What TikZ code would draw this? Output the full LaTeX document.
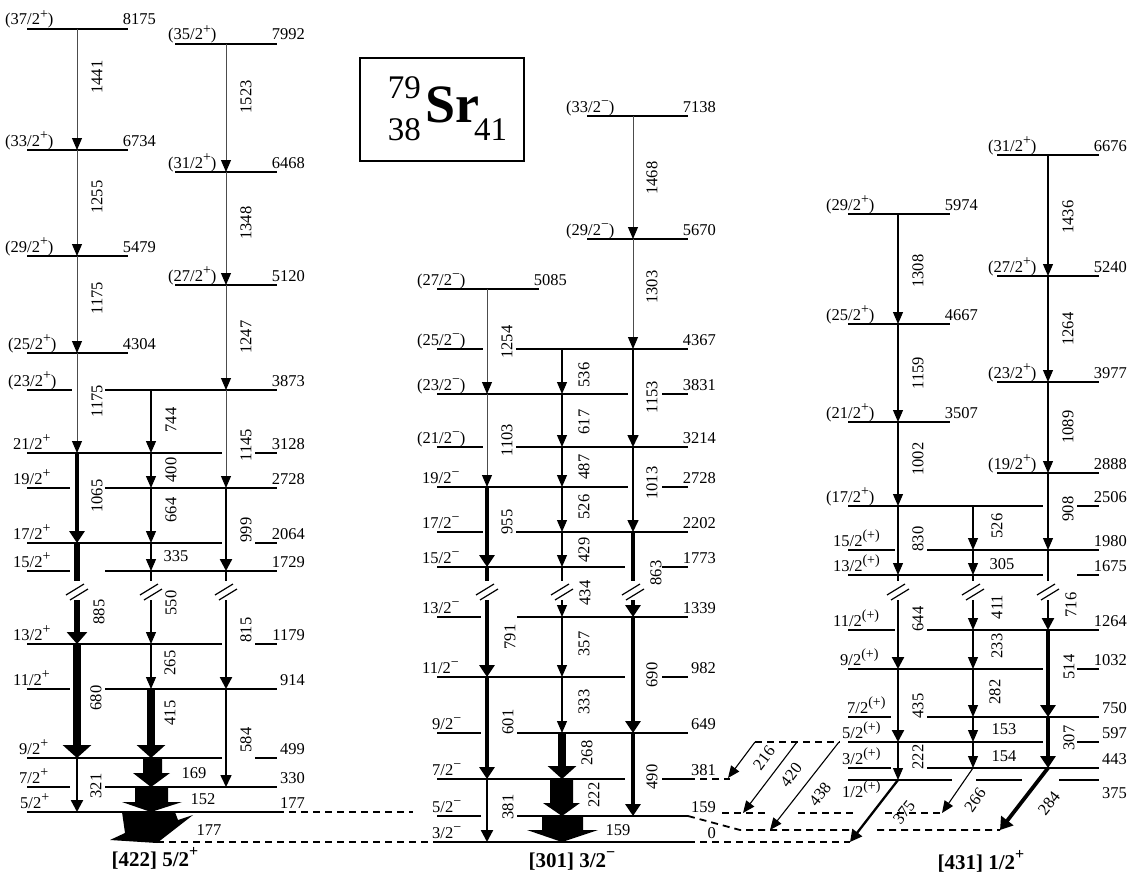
\documentclass[tikz,border=0pt]{standalone}
\usepackage{fontspec}
\setmainfont{Liberation Serif}
\usetikzlibrary{arrows.meta}
\newcommand\lsz{\fontsize{16.5}{19}\selectfont}
\newcommand\elabel[3]{\node[elab] (en-#1-#2) at (#1,#2-4) {#3};}
\newcommand\slabel[3]{\node[slab] (sp-#1-#2) at (#1,#2-4) {#3};}
\newcommand\vlabel[3]{\node[vlab] (vt-#1-#2) at (#1,#2) {#3};}
\newcommand\hlabel[3]{\node[hlab] (ht-#1-#2) at (#1,#2) {#3};}
\newcommand\brkmark[1]{\draw[brk] (#1-11,595) -- (#1+7,584) (#1-7,600) -- (#1+11,589);}
\newcommand\supx[1]{\raisebox{0.42em}{\fontsize{14}{14}\selectfont #1}}
\newcommand\sP{\supx{+}}
\newcommand\sM{\supx{−}}
\newcommand\sQ{\supx{(+)}}
\newcommand\bsup[1]{\raisebox{0.45em}{\fontsize{16}{16}\selectfont\bfseries #1}}
\begin{document}
\begin{tikzpicture}[x=1pt,y=-1pt,
  lev/.style={line width=2.3pt},
  dlev/.style={line width=1.8pt, dash pattern=on 7pt off 5pt},
  elab/.style={anchor=base east, inner sep=0pt, font=\lsz},
  slab/.style={anchor=base west, inner sep=0pt, font=\lsz},
  vlab/.style={rotate=90, inner sep=0pt, font=\lsz},
  hlab/.style={inner sep=0pt, font=\lsz},
  blab/.style={anchor=base, inner sep=0pt, font=\fontsize{21}{24}\selectfont\bfseries},
  brk/.style={line width=1.2pt},
  tg/.style={draw=black!70, line width=1pt, -{Triangle[length=12pt,width=10pt,color=black]}},
  t1/.style={line width=1.1pt, -{Triangle[length=12pt,width=10pt]}},
  t1b/.style={line width=1.6pt, -{Triangle[length=12pt,width=11pt]}},
  t2/.style={line width=2.3pt, -{Triangle[length=12pt,width=12pt]}},
  t3/.style={line width=3.8pt, -{Triangle[length=12pt,width=15pt]}},
  t4/.style={line width=6pt, -{Triangle[length=12pt,width=20pt]}},
  t5/.style={line width=8.5pt, -{Triangle[length=13pt,width=28pt]}},
  fat/.style={fill=black}
]
\useasboundingbox (0,0) rectangle (1133,875);

% ---------- coordinates ----------
\foreach \n/\y in {8175/29,6734/150,5479/256,4304/353,7992/44,6468/172,5120/285,3873/390,3128/453,2728/488,2064/543,1729/571,1179/644,914/689,499/758,330/787,177/812,0/842}
  \coordinate (a\n) at (0,\y);
\foreach \n/\y in {7138/116,5670/239,5085/289,4367/349,3831/394,3214/447,2728/487,2202/532,1773/567,1339/617,982/677,649/733,381/779,159/816,0/842}
  \coordinate (b\n) at (0,\y);
\foreach \n/\y in {6676/155,5974/214,5240/276,4667/324,3977/382,3507/422,2888/473,2506/506,1980/550,1675/575,1264/630,1032/669,750/717,597/742,443/768,375/780}
  \coordinate (c\n) at (0,\y);
\foreach \n/\x in {A1/77,A2/151,A3/226,B1/487,B2/562,B3/633,C1/898,C2/973,C3/1048}
  \coordinate (\n) at (\x,0);
\coordinate (bu) at (0,581);
\coordinate (bl) at (0,600);
\coordinate (g375) at (850,842);
\coordinate (g266) at (942,813);
\coordinate (g284) at (1000,830);
\coordinate (d216s) at (755,742);
\coordinate (d216e) at (728,778);
\coordinate (d420s) at (797,742);
\coordinate (d420e) at (743,813);
\coordinate (d438s) at (839,742);
\coordinate (d438e) at (770,830);

% ---------- title box ----------
\draw[line width=1.4pt] (360,58) rectangle (524,161);
\node[anchor=base west, inner sep=0pt, font=\fontsize{54}{58}\selectfont\bfseries] (sr) at (425,122) {Sr};
\node[anchor=base east, inner sep=0pt, font=\fontsize{33}{36}\selectfont] (mass) at (421,99) {79};
\node[anchor=base east, inner sep=0pt, font=\fontsize{33}{36}\selectfont] (zz) at (421,140) {38};
\node[anchor=base west, inner sep=0pt, font=\fontsize{33}{36}\selectfont] (nn) at (474,140) {41};

% ---------- band A levels ----------
\draw[lev] (27,29)--(128,29) (27,150)--(128,150) (27,256)--(128,256) (27,353)--(128,353);
\draw[lev] (175,44)--(277,44) (175,172)--(277,172) (175,285)--(277,285);
\draw[lev] (27,390)--(72,390) (105,390)--(277,390);
\draw[lev] (27,453)--(222,453) (255,453)--(277,453);
\draw[lev] (27,488)--(70,488) (105,488)--(277,488);
\draw[lev] (27,543)--(222,543) (255,543)--(277,543);
\draw[lev] (27,571)--(70,571) (105,571)--(277,571);
\draw[lev] (27,644)--(222,644) (255,644)--(277,644);
\draw[lev] (27,689)--(70,689) (105,689)--(277,689);
\draw[lev] (27,758)--(222,758) (255,758)--(277,758);
\draw[lev] (27,787)--(70,787) (105,787)--(277,787);
\draw[lev] (27,812)--(277,812);
\draw[dlev] (277,812)--(413,812) (157,842)--(437,842);

% ---------- band B levels ----------
\draw[lev] (587,116)--(688,116) (587,239)--(688,239) (437,289)--(539,289);
\draw[lev] (437,349)--(483,349) (516,349)--(688,349);
\draw[lev] (437,394)--(628,394) (662,394)--(688,394);
\draw[lev] (437,447)--(483,447) (516,447)--(688,447);
\draw[lev] (437,487)--(628,487) (662,487)--(688,487);
\draw[lev] (437,532)--(483,532) (516,532)--(688,532);
\draw[lev] (437,567)--(625,567) (662,567)--(688,567);
\draw[lev] (437,617)--(481,617) (517,617)--(688,617);
\draw[lev] (437,677)--(625,677) (662,677)--(688,677);
\draw[lev] (437,733)--(481,733) (517,733)--(688,733);
\draw[lev] (437,779)--(625,779) (662,779)--(688,779);
\draw[lev] (437,816)--(481,816) (517,816)--(688,816);
\draw[lev] (437,842)--(688,842);
\draw[dlev] (688,779)--(730,779);
\draw[dlev] (688,816)--(740,830)--(852,830) (877,830)--(1000,830);
\draw[dlev] (688,842)--(850,842);
\draw[dlev] (722,813)--(768,813) (798,813)--(855,813) (885,813)--(942,813);
\draw[dlev] (755,742)--(840,742);

% ---------- band C levels ----------
\draw[lev] (848,214)--(950,214) (848,324)--(950,324) (848,422)--(950,422);
\draw[lev] (997,155)--(1099,155) (997,276)--(1099,276) (997,382)--(1099,382) (997,473)--(1099,473);
\draw[lev] (848,506)--(1043,506) (1077,506)--(1099,506);
\draw[lev] (848,550)--(895,550) (927,550)--(1099,550);
\draw[lev] (848,575)--(1043,575) (1077,575)--(1099,575);
\draw[lev] (848,630)--(895,630) (927,630)--(1099,630);
\draw[lev] (848,669)--(1043,669) (1077,669)--(1099,669);
\draw[lev] (848,717)--(891,717) (927,717)--(1099,717);
\draw[lev] (848,742)--(1043,742) (1077,742)--(1099,742);
\draw[lev] (848,768)--(891,768) (927,768)--(1099,768);
\draw[lev] (848,780)--(952,780) (976,780)--(1022,780) (1059,780)--(1099,780);

% ---------- band A transitions ----------
\draw[tg] (A1|-a8175) -- (A1|-a6734);
\draw[tg] (A1|-a6734) -- (A1|-a5479);
\draw[tg] (A1|-a5479) -- (A1|-a4304);
\draw[tg] (A1|-a4304) -- (A1|-a3128);
\draw[t3] (A1|-a3128) -- (A1|-a2064);
\draw[t4,-] (A1|-a2064) -- (A1|-bu);
\draw[t4] (A1|-bl) -- (A1|-a1179);
\draw[t5] (A1|-a1179) -- (A1|-a499);
\draw[t2] (A1|-a499) -- (A1|-a177);

\draw[t1] (A2|-a3873) -- (A2|-a3128);
\draw[t1] (A2|-a3128) -- (A2|-a2728);
\draw[t1] (A2|-a2728) -- (A2|-a2064);
\draw[t1] (A2|-a2064) -- (A2|-a1729);
\draw[t1,-] (A2|-a1729) -- (A2|-bu);
\draw[t1] (A2|-bl) -- (A2|-a1179);
\draw[t1] (A2|-a1179) -- (A2|-a914);
\draw[t5] (A2|-a914) -- (A2|-a499);
\fill[fat] (143,758) -- (162,758) -- (162,773) -- (170,773) -- (151,787) -- (133,773) -- (143,773) -- cycle;
\fill[fat] (135,787) -- (168,787) -- (168,802) -- (182,802) -- (151,812) -- (122,802) -- (135,802) -- cycle;
\fill[fat] (122,812) -- (175,812) -- (178,820) -- (193,815) -- (157,843) -- (110,840) -- (125,833) -- cycle;

\draw[tg] (A3|-a7992) -- (A3|-a6468);
\draw[tg] (A3|-a6468) -- (A3|-a5120);
\draw[tg] (A3|-a5120) -- (A3|-a3873);
\draw[tg] (A3|-a3873) -- (A3|-a2728);
\draw[t2] (A3|-a2728) -- (A3|-a1729);
\draw[t2,-] (A3|-a1729) -- (A3|-bu);
\draw[t2] (A3|-bl) -- (A3|-a914);
\draw[t1b] (A3|-a914) -- (A3|-a330);

% ---------- band B transitions ----------
\draw[tg] (B1|-b5085) -- (B1|-b3831);
\draw[tg] (B1|-b3831) -- (B1|-b2728);
\draw[t3] (B1|-b2728) -- (B1|-b1773);
\draw[t3,-] (B1|-b1773) -- (B1|-bu);
\draw[t3] (B1|-bl) -- (B1|-b982);
\draw[t3] (B1|-b982) -- (B1|-b381);
\draw[t2] (B1|-b381) -- (B1|-b0);

\draw[t1] (B2|-b4367) -- (B2|-b3831);
\draw[t1] (B2|-b3831) -- (B2|-b3214);
\draw[t1] (B2|-b3214) -- (B2|-b2728);
\draw[t1] (B2|-b2728) -- (B2|-b2202);
\draw[t1] (B2|-b2202) -- (B2|-b1773);
\draw[t1,-] (B2|-b1773) -- (B2|-bu);
\draw[t1] (B2|-bl) -- (B2|-b1339);
\draw[t1] (B2|-b1339) -- (B2|-b982);
\draw[t1] (B2|-b982) -- (B2|-b649);
\draw[t5] (B2|-b649) -- (B2|-b381);
\fill[fat] (550,779) -- (573,779) -- (573,803) -- (580,803) -- (562,816) -- (543,803) -- (550,803) -- cycle;
\fill[fat] (542,816) -- (583,816) -- (583,830) -- (598,830) -- (562,842) -- (527,830) -- (542,830) -- cycle;

\draw[tg] (B3|-b7138) -- (B3|-b5670);
\draw[tg] (B3|-b5670) -- (B3|-b4367);
\draw[t1b] (B3|-b4367) -- (B3|-b3214);
\draw[t1b] (B3|-b3214) -- (B3|-b2202);
\draw[t3,-] (B3|-b2202) -- (B3|-bu);
\draw[t3] (B3|-bl) -- (B3|-b1339);
\draw[t3] (B3|-b1339) -- (B3|-b649);
\draw[t3] (B3|-b649) -- (B3|-b159);

% ---------- band C transitions ----------
\draw[t1] (C1|-c5974) -- (C1|-c4667);
\draw[t1] (C1|-c4667) -- (C1|-c3507);
\draw[t1] (C1|-c3507) -- (C1|-c2506);
\draw[t1] (C1|-c2506) -- (C1|-c1675);
\draw[t2,-] (C1|-c1675) -- (C1|-bu);
\draw[t2] (C1|-bl) -- (C1|-c1032);
\draw[t2] (C1|-c1032) -- (C1|-c597);
\draw[t1] (C1|-c597) -- (C1|-c375);
\draw[t2] (C1|-c375) -- (g375);

\draw[t1] (C2|-c2506) -- (C2|-c1980);
\draw[t1] (C2|-c1980) -- (C2|-c1675);
\draw[t1,-] (C2|-c1675) -- (C2|-bu);
\draw[t1] (C2|-bl) -- (C2|-c1264);
\draw[t1] (C2|-c1264) -- (C2|-c1032);
\draw[t1] (C2|-c1032) -- (C2|-c750);
\draw[t1] (C2|-c750) -- (C2|-c597);
\draw[t1] (C2|-c597) -- (C2|-c443);
\draw[t1] (C2|-c443) -- (g266);

\draw[t1] (C3|-c6676) -- (C3|-c5240);
\draw[t1] (C3|-c5240) -- (C3|-c3977);
\draw[t1] (C3|-c3977) -- (C3|-c2888);
\draw[t1] (C3|-c2888) -- (C3|-c1980);
\draw[t2,-] (C3|-c1980) -- (C3|-bu);
\draw[t2] (C3|-bl) -- (C3|-c1264);
\draw[t3] (C3|-c1264) -- (C3|-c750);
\draw[t3] (C3|-c750) -- (C3|-c443);
\draw[t3] (C3|-c443) -- (g284);

\draw[t1] (d216s) -- (d216e);
\draw[t1] (d420s) -- (d420e);
\draw[t1] (d438s) -- (d438e);

% ---------- break marks ----------
\brkmark{77}\brkmark{151}\brkmark{226}
\brkmark{487}\brkmark{562}\brkmark{633}
\brkmark{898}\brkmark{973}\brkmark{1048}

% ---------- energy labels ----------
\elabel{156}{29}{8175}\elabel{156}{150}{6734}\elabel{156}{256}{5479}\elabel{156}{353}{4304}
\elabel{305}{44}{7992}\elabel{305}{172}{6468}\elabel{305}{285}{5120}
\elabel{305}{390}{3873}\elabel{305}{453}{3128}\elabel{305}{488}{2728}\elabel{305}{543}{2064}
\elabel{305}{571}{1729}\elabel{305}{644}{1179}\elabel{305}{689}{914}\elabel{305}{758}{499}
\elabel{305}{787}{330}\elabel{305}{812}{177}

\elabel{716}{116}{7138}\elabel{716}{239}{5670}\elabel{567}{289}{5085}\elabel{716}{349}{4367}
\elabel{716}{394}{3831}\elabel{716}{447}{3214}\elabel{716}{487}{2728}\elabel{716}{532}{2202}
\elabel{716}{567}{1773}\elabel{716}{617}{1339}\elabel{716}{677}{982}\elabel{716}{733}{649}
\elabel{716}{779}{381}\elabel{716}{816}{159}\elabel{716}{842}{0}

\elabel{978}{214}{5974}\elabel{978}{324}{4667}\elabel{978}{422}{3507}
\elabel{1127}{155}{6676}\elabel{1127}{276}{5240}\elabel{1127}{382}{3977}\elabel{1127}{473}{2888}
\elabel{1127}{506}{2506}\elabel{1127}{550}{1980}\elabel{1127}{575}{1675}\elabel{1127}{630}{1264}
\elabel{1127}{669}{1032}\elabel{1127}{717}{750}\elabel{1127}{742}{597}\elabel{1127}{768}{443}
\elabel{1127}{802}{375}

% ---------- spin labels ----------
\slabel{5}{29}{(37/2\sP)}\slabel{5}{150}{(33/2\sP)}\slabel{5}{256}{(29/2\sP)}
\slabel{8}{353}{(25/2\sP)}\slabel{8}{390}{(23/2\sP)}
\slabel{13}{453}{21/2\sP}\slabel{13}{488}{19/2\sP}\slabel{13}{543}{17/2\sP}
\slabel{13}{571}{15/2\sP}\slabel{13}{644}{13/2\sP}\slabel{13}{689}{11/2\sP}
\slabel{19}{758}{9/2\sP}\slabel{19}{787}{7/2\sP}\slabel{20}{812}{5/2\sP}
\slabel{168}{44}{(35/2\sP)}\slabel{168}{172}{(31/2\sP)}\slabel{168}{285}{(27/2\sP)}

\slabel{566}{116}{(33/2\sM)}\slabel{566}{239}{(29/2\sM)}
\slabel{417}{289}{(27/2\sM)}\slabel{417}{349}{(25/2\sM)}\slabel{417}{394}{(23/2\sM)}
\slabel{417}{447}{(21/2\sM)}
\slabel{422}{487}{19/2\sM}\slabel{422}{532}{17/2\sM}\slabel{422}{567}{15/2\sM}
\slabel{422}{617}{13/2\sM}\slabel{422}{677}{11/2\sM}
\slabel{432}{733}{9/2\sM}\slabel{432}{779}{7/2\sM}\slabel{432}{816}{5/2\sM}\slabel{432}{842}{3/2\sM}

\slabel{826}{214}{(29/2\sP)}\slabel{826}{324}{(25/2\sP)}\slabel{826}{422}{(21/2\sP)}
\slabel{826}{506}{(17/2\sP)}
\slabel{988}{155}{(31/2\sP)}\slabel{988}{276}{(27/2\sP)}\slabel{988}{382}{(23/2\sP)}
\slabel{988}{473}{(19/2\sP)}
\slabel{833}{550}{15/2\sQ}\slabel{833}{575}{13/2\sQ}\slabel{833}{630}{11/2\sQ}
\slabel{840}{669}{9/2\sQ}\slabel{847}{717}{7/2\sQ}\slabel{842}{742}{5/2\sQ}
\slabel{842}{768}{3/2\sQ}\slabel{842}{801}{1/2\sQ}

% ---------- transition labels ----------
\vlabel{97}{77}{1441}\vlabel{97}{197}{1255}\vlabel{97}{298}{1175}\vlabel{97}{401}{1175}
\vlabel{97}{496}{1065}\vlabel{99}{612}{885}\vlabel{96}{698}{680}\vlabel{96}{786}{321}
\vlabel{171}{420}{744}\vlabel{171}{470}{400}\vlabel{171}{510}{664}\vlabel{171}{603}{550}
\vlabel{170}{663}{265}\vlabel{170}{713}{415}
\vlabel{246}{97}{1523}\vlabel{246}{223}{1348}\vlabel{246}{337}{1247}\vlabel{246}{445}{1145}
\vlabel{246}{530}{999}\vlabel{246}{630}{815}\vlabel{246}{740}{584}
\hlabel{176}{556}{335}\hlabel{194}{773}{169}\hlabel{203}{799}{152}\hlabel{209}{830}{177}

\vlabel{652}{178}{1468}\vlabel{652}{287}{1303}\vlabel{507}{342}{1254}\vlabel{584}{375}{536}
\vlabel{652}{397}{1153}\vlabel{584}{422}{617}\vlabel{507}{440}{1103}\vlabel{584}{467}{487}
\vlabel{652}{483}{1013}\vlabel{584}{507}{526}\vlabel{507}{522}{955}\vlabel{584}{550}{429}
\vlabel{656}{573}{863}\vlabel{585}{593}{434}\vlabel{510}{637}{791}\vlabel{584}{644}{357}
\vlabel{652}{675}{690}\vlabel{584}{702}{333}\vlabel{508}{722}{601}\vlabel{587}{753}{268}
\vlabel{652}{777}{490}\vlabel{594}{795}{222}\vlabel{508}{807}{381}
\hlabel{618}{830}{159}

\vlabel{1068}{217}{1436}\vlabel{918}{271}{1308}\vlabel{1068}{329}{1264}\vlabel{918}{373}{1159}
\vlabel{1068}{427}{1089}\vlabel{918}{459}{1002}\vlabel{1068}{509}{908}\vlabel{997}{526}{526}
\vlabel{918}{539}{830}\vlabel{918}{619}{644}\vlabel{997}{607}{411}\vlabel{1071}{605}{716}
\vlabel{997}{646}{233}\vlabel{1069}{667}{514}\vlabel{995}{692}{282}\vlabel{918}{706}{435}
\vlabel{1069}{738}{307}\vlabel{918}{757}{222}
\hlabel{1002}{564}{305}\hlabel{1004}{729}{153}\hlabel{1004}{756}{154}

\node[hlab, rotate=53] (l216) at (764,758) {216};
\node[hlab, rotate=53] (l420) at (791,775) {420};
\node[hlab, rotate=52] (l438) at (820,794) {438};
\node[hlab, rotate=52] (l375) at (904,812) {375};
\node[hlab, rotate=55] (l266) at (975,800) {266};
\node[hlab, rotate=52] (l284) at (1049,803) {284};

% ---------- band names ----------
\node[blab] (nA) at (155,866) {[422] 5/2\bsup{+}};
\node[blab] (nB) at (572,867) {[301] 3/2\bsup{−}};
\node[blab] (nC) at (981,869) {[431] 1/2\bsup{+}};
\end{tikzpicture}
\end{document}
